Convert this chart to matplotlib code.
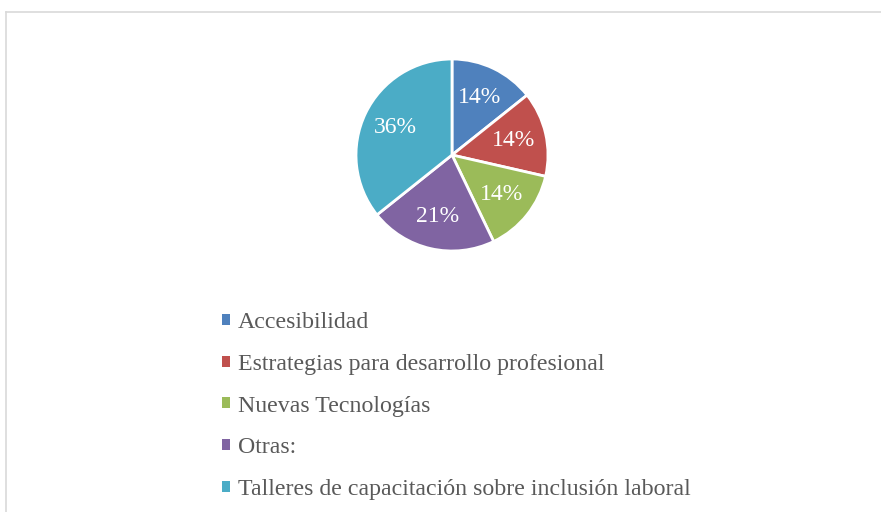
import matplotlib.pyplot as plt
from matplotlib.patches import Patch
from matplotlib.lines import Line2D

plt.rcParams['font.family'] = ['Liberation Serif', 'DejaVu Serif']

categories = ['Accesibilidad',
              'Estrategias para desarrollo profesional',
              'Nuevas Tecnologías',
              'Otras:',
              'Talleres de capacitación sobre inclusión laboral']
counts = [2, 2, 2, 3, 5]
colors = ['#4F81BD', '#C0504D', '#9BBB59', '#8064A2', '#4BACC6']

fig = plt.figure(figsize=(8.81, 5.12), dpi=100)

# chart border (cut off at right and bottom in the reference)
fig.add_artist(Line2D([6/881, 6/881], [0, 1 - 11.5/512], color='#D9D9D9', lw=1.2, transform=fig.transFigure))
fig.add_artist(Line2D([6/881, 1], [1 - 11.5/512, 1 - 11.5/512], color='#D9D9D9', lw=1.2, transform=fig.transFigure))

ax = fig.add_axes([(452 - 96) / 881, (512 - 251) / 512, 192 / 881, 192 / 512])
wedges, texts, autotexts = ax.pie(counts, colors=colors, startangle=90, counterclock=False,
                                  autopct='%.0f%%', pctdistance=0.66,
                                  wedgeprops=dict(edgecolor='white', linewidth=2),
                                  textprops=dict(color='white', fontsize=17))
ax.set_xlim(-1.0, 1.0)
ax.set_ylim(-1.0, 1.0)
ax.set_aspect('equal')

handles = [Patch(facecolor=c, edgecolor='none') for c in colors]
fig.legend(handles, categories, loc='upper left', bbox_to_anchor=(222/881, 1 - 312/512),
           frameon=False, fontsize=17.2, labelcolor='#595959',
           handlelength=0.33, handleheight=0.33, handletextpad=0.33, labelspacing=0.87,
           borderpad=0, borderaxespad=0)

fig.savefig('out.png', dpi=100)
